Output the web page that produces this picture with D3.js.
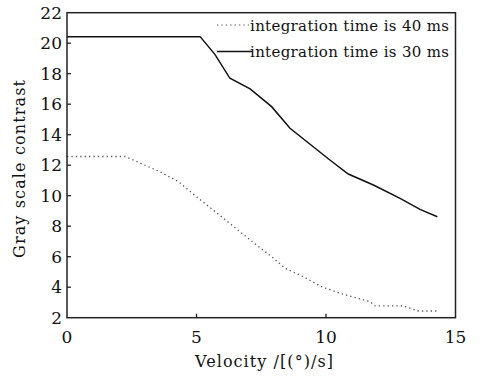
<!DOCTYPE html>
<head>
  <meta charset="utf-8">
  <script src="https://d3js.org/d3.v7.min.js"></script>
  <style>
    body { margin:0; background:#fff; }
    svg { display:block; }
  </style>
</head>
<body>
<script>
  // integration time 40 ms (dotted)
  var vel40 = [0, 2.24, 3.59, 4.3, 5.0, 6.04, 7.07, 7.9, 8.42, 9.12, 9.83, 10.54, 11.7, 11.9, 12.98, 13.56, 14.34];
  var con40 = [12.57, 12.57, 11.57, 10.92, 9.93, 8.52, 7.1, 6.0, 5.24, 4.69, 4.03, 3.6, 3.05, 2.77, 2.77, 2.44, 2.44];
  // integration time 30 ms (solid)
  var vel30 = [0, 5.14, 5.71, 6.29, 7.07, 7.9, 8.61, 10.15, 10.86, 11.83, 12.86, 13.63, 14.3];
  var con30 = [20.43, 20.43, 19.27, 17.7, 17.0, 15.84, 14.42, 12.34, 11.42, 10.7, 9.83, 9.1, 8.62];
  var xTicks = [0, 5, 10, 15];
  var yTicks = [2, 4, 6, 8, 10, 12, 14, 16, 18, 20, 22];
  var legendLabels = ["integration time is 40 ms", "integration time is 30 ms"];

  var W = 486, H = 377;
  var FONT = "'DejaVu Serif', 'Liberation Serif', serif";
  var x = d3.scaleLinear().domain([0, 15]).range([67, 455.5]);
  var y = d3.scaleLinear().domain([2, 22]).range([317.7, 12.7]);

  var svg = d3.select("body").append("svg").attr("width", W).attr("height", H)
    .attr("font-family", FONT);

  function pts(xs, ys) { return xs.map(function(v, i) { return [v, ys[i]]; }); }
  var line = d3.line().x(function(d) { return x(d[0]); }).y(function(d) { return y(d[1]); });

  svg.append("path").datum(pts(vel40, con40))
    .attr("d", line).attr("fill", "none")
    .attr("stroke", "#555").attr("stroke-width", 1.3)
    .attr("stroke-dasharray", "1.3,3.1");
  svg.append("path").datum(pts(vel30, con30))
    .attr("d", line).attr("fill", "none")
    .attr("stroke", "#111").attr("stroke-width", 1.5);

  // frame
  svg.append("rect")
    .attr("x", x(0)).attr("y", y(22))
    .attr("width", x(15) - x(0)).attr("height", y(2) - y(22))
    .attr("fill", "none").attr("stroke", "#222").attr("stroke-width", 1.5);

  // inward ticks
  svg.selectAll(".xt").data(xTicks.slice(1, 3)).enter().append("line")
    .attr("x1", function(d) { return x(d); }).attr("x2", function(d) { return x(d); })
    .attr("y1", y(2)).attr("y2", y(2) - 4)
    .attr("stroke", "#222").attr("stroke-width", 1.3);
  svg.selectAll(".yt").data(yTicks.slice(1, -1)).enter().append("line")
    .attr("x1", x(0)).attr("x2", x(0) + 4)
    .attr("y1", function(d) { return y(d); }).attr("y2", function(d) { return y(d); })
    .attr("stroke", "#222").attr("stroke-width", 1.3);

  svg.selectAll(".xl").data(xTicks).enter().append("text")
    .attr("x", function(d) { return x(d); }).attr("y", 343)
    .attr("text-anchor", "middle").attr("font-size", 17).attr("fill", "#111")
    .text(function(d) { return d; });
  svg.selectAll(".yl").data(yTicks).enter().append("text")
    .attr("x", 62).attr("y", function(d) { return y(d) + 6; })
    .attr("text-anchor", "end").attr("font-size", 17).attr("fill", "#111")
    .text(function(d) { return d; });

  svg.append("text").attr("x", 195).attr("y", 367)
    .attr("font-size", 16).attr("textLength", 138).attr("fill", "#111")
    .text("Velocity /[(°)/s]");
  svg.append("text")
    .attr("transform", "translate(25,258) rotate(-90)")
    .attr("font-size", 16).attr("textLength", 178).attr("fill", "#111")
    .text("Gray scale contrast");

  // legend
  var lg = svg.append("g");
  legendLabels.forEach(function(t, i) {
    var ly = 25 + i * 26.5;
    lg.append("line").attr("x1", 217).attr("x2", 252).attr("y1", ly).attr("y2", ly)
      .attr("stroke", i === 0 ? "#555" : "#111")
      .attr("stroke-width", i === 0 ? 1.2 : 1.5)
      .attr("stroke-dasharray", i === 0 ? "1.3,3.1" : null);
    lg.append("text").attr("x", 250).attr("y", ly + 5.5)
      .attr("font-size", 15).attr("textLength", 199).attr("fill", "#111")
      .text(t);
  });
</script>
</body>
